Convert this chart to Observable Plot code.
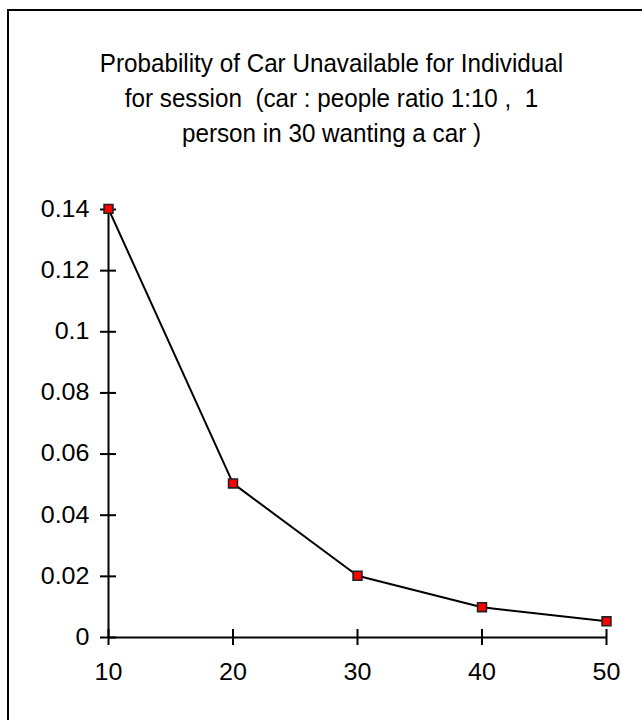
<!DOCTYPE html>
<html>
<head>
<meta charset="utf-8">
<script src="https://cdn.jsdelivr.net/npm/d3@7"></script>
<script src="https://cdn.jsdelivr.net/npm/@observablehq/plot@0.6"></script>
<style>
  html, body { margin: 0; padding: 0; background: #fff; }
  #chart { position: relative; width: 642px; height: 720px; overflow: hidden; }
  #chart svg { position: absolute; left: 0; top: 0; }
  #chart svg text { white-space: pre; }
  .border {
    position: absolute; left: 7px; top: 9px; width: 800px; height: 900px;
    border-left: 2px solid #000; border-top: 2px solid #000; box-sizing: border-box;
  }
</style>
</head>
<body>
<div id="chart"><div class="border"></div></div>
<script>
// Session size (people per session) and probability that no car is free
const sessions = [10, 20, 30, 40, 50];
const probabilities = [0.1402, 0.0504, 0.0202, 0.0099, 0.0053];

const xTicks = [10, 20, 30, 40, 50];
const yTicks = [0, 0.02, 0.04, 0.06, 0.08, 0.1, 0.12, 0.14];

const titleLines = [
  "Probability of Car Unavailable for Individual",
  "for session  (car : people ratio 1:10 ,  1",
  "person in 30 wanting a car )"
];

const data = sessions.map((s, i) => ({session: s, p: probabilities[i]}));
const tickFont = 23;
const titleFont = 25;
const font = "Arial, 'Liberation Sans', sans-serif";

const chart = Plot.plot({
  width: 642,
  height: 720,
  marginLeft: 108,
  marginRight: 36,
  marginTop: 209,
  marginBottom: 83,
  style: {fontFamily: font, fontSize: tickFont + "px", color: "#000", background: "transparent"},
  x: {type: "linear", domain: [10, 50]},
  y: {type: "linear", domain: [0, 0.14]},
  marks: [
    // axis lines
    Plot.ruleX([10], {stroke: "#000", strokeWidth: 2}),
    Plot.ruleY([0], {stroke: "#000", strokeWidth: 2}),
    // ticks crossing the axes, with labels
    Plot.axisY(yTicks, {
      tickSize: 16, dx: 8, tickPadding: 11, strokeWidth: 2,
      label: null, fontSize: tickFont, tickFormat: d => String(+d.toFixed(2))
    }),
    Plot.axisX(xTicks, {
      tickSize: 16, dy: -8, tickPadding: 18, strokeWidth: 2,
      label: null, fontSize: tickFont, tickFormat: d => String(d)
    }),
    // title
    Plot.text([titleLines.join("\n")], {
      frameAnchor: "top", lineAnchor: "middle", dx: -26, dy: -114,
      lineHeight: 35 / titleFont, fontSize: titleFont, fill: "#000",
      className: "chart-title"
    }),
    // series
    Plot.line(data, {x: "session", y: "p", stroke: "#000", strokeWidth: 2}),
    Plot.dot(data, {
      x: "session", y: "p", symbol: "square", r: 5,
      fill: "#ff0000", stroke: "#222", strokeWidth: 1.6
    })
  ]
});

// tick labels run a little wide, the title a little narrow
chart.querySelectorAll("text").forEach(t => {
  const tr = t.getAttribute("transform");
  if (!tr) return;
  const isTitle = t.closest(".chart-title") !== null;
  t.setAttribute("transform", tr + (isTitle ? " scale(0.97,1)" : " scale(1.09,1)"));
});

document.getElementById("chart").prepend(chart);
</script>
</body>
</html>
